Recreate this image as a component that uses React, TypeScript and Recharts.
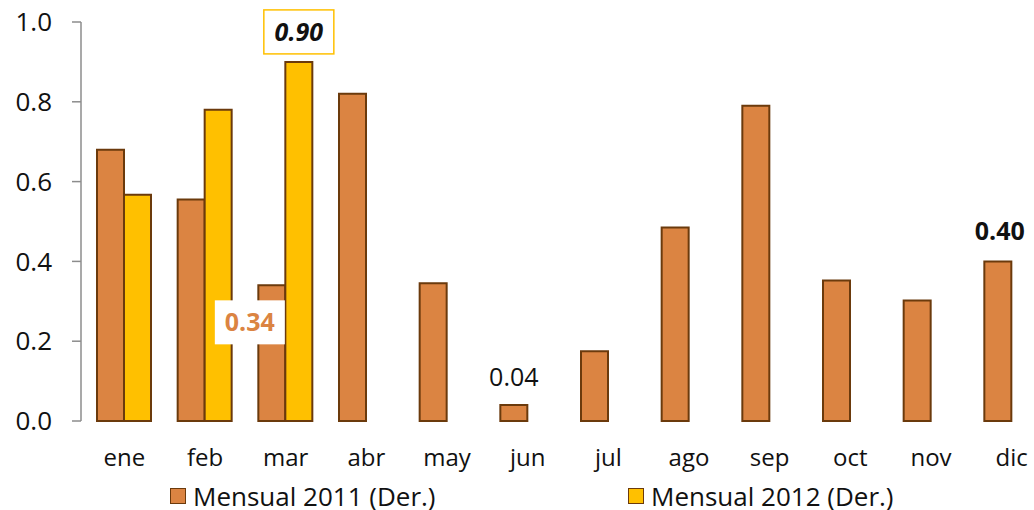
import { BarChart, Bar, XAxis, YAxis, Legend, LabelList } from 'recharts';

const meses = ['ene', 'feb', 'mar', 'abr', 'may', 'jun', 'jul', 'ago', 'sep', 'oct', 'nov', 'dic'];
const mensual2011 = [0.68, 0.555, 0.34, 0.82, 0.345, 0.04, 0.175, 0.485, 0.79, 0.352, 0.302, 0.4];
const mensual2012: (number | null)[] = [0.567, 0.78, 0.9, null, null, null, null, null, null, null, null, null];
const yTicks = [0, 0.2, 0.4, 0.6, 0.8, 1.0];

const data = meses.map((name, i) => ({
  name,
  m2011: mensual2011[i],
  m2012: mensual2012[i],
}));

const NARANJA = '#DB8442';
const AMARILLO = '#FFC000';
const BORDE = '#6B3A0C';
const FONT = '"Open Sans", sans-serif';

const label2011 = (props: any) => {
  const { x, y, width, index, value } = props;
  const cx = x + width / 2;
  if (index === 2) {
    const bx = cx - 22;
    const by = y + 37;
    return (
      <g>
        <rect x={bx - 35} y={by - 22} width={70} height={44} fill="#fff" />
        <text x={bx} y={by + 9} textAnchor="middle" fontFamily={FONT} fontSize={25} fontWeight={700} fill={NARANJA}>
          {Number(value).toFixed(2)}
        </text>
      </g>
    );
  }
  if (index === 5) {
    return (
      <text x={cx} y={y - 19} textAnchor="middle" fontFamily={FONT} fontSize={25} fill="#111">
        {Number(value).toFixed(2)}
      </text>
    );
  }
  if (index === 11) {
    return (
      <text x={cx + 2} y={y - 21} textAnchor="middle" fontFamily={FONT} fontSize={25} fontWeight={700} fill="#111">
        {Number(value).toFixed(2)}
      </text>
    );
  }
  return null;
};

const label2012 = (props: any) => {
  const { x, y, width, index, value } = props;
  if (index !== 2) return null;
  const cx = x + width / 2;
  return (
    <g>
      <rect x={cx - 35} y={y - 52} width={70} height={44} fill="#fff" stroke={AMARILLO} strokeWidth={1.5} />
      <text x={cx} y={y - 21} textAnchor="middle" fontFamily={FONT} fontSize={25} fontWeight={700} fontStyle="italic" fill="#111">
        {Number(value).toFixed(2)}
      </text>
    </g>
  );
};

const LeyendaItem = ({ left, color, text }: { left: number; color: string; text: string }) => (
  <div style={{ position: 'absolute', left, top: 10, display: 'flex', alignItems: 'center' }}>
    <span style={{ width: 14, height: 14, background: color, border: `1.5px solid ${BORDE}`, marginRight: 7 }} />
    <span style={{ fontFamily: FONT, fontSize: 26, color: '#111', whiteSpace: 'nowrap', lineHeight: '30px' }}>{text}</span>
  </div>
);

const leyenda = () => (
  <div style={{ position: 'relative', height: 39, width: 1060 }}>
    <LeyendaItem left={170} color={NARANJA} text="Mensual 2011 (Der.)" />
    <LeyendaItem left={628} color={AMARILLO} text="Mensual 2012 (Der.)" />
  </div>
);

export default function App() {
  return (
    <div style={{ position: 'absolute', left: 0, top: 0, width: 1034, height: 510, overflow: 'hidden', background: '#fff' }}>
      <BarChart
        width={1060}
        height={510}
        data={data}
        barGap={0}
        barSize={27}
        margin={{ top: 22, right: 8, left: 0, bottom: 0 }}
      >
        <XAxis
          dataKey="name"
          axisLine={false}
          tickLine={false}
          tickMargin={22}
          height={50}
          interval={0}
          padding={{ left: 3, right: 0 }}
          tick={{ fill: '#111', fontSize: 24, fontFamily: FONT }}
        />
        <YAxis
          width={81}
          domain={[0, 1]}
          ticks={yTicks}
          tickFormatter={(v: number) => v.toFixed(1)}
          axisLine={{ stroke: '#8c8c8c', strokeWidth: 1.5 }}
          tickLine={{ stroke: '#8c8c8c', strokeWidth: 1.5 }}
          tickSize={9}
          tickMargin={20}
          tick={{ fill: '#111', fontSize: 26, fontFamily: FONT }}
        />
        <Legend content={leyenda} wrapperStyle={{ left: 0, bottom: 0, width: 1060, height: 39 }} />
        <Bar dataKey="m2011" name="Mensual 2011 (Der.)" fill={NARANJA} stroke={BORDE} strokeWidth={2} isAnimationActive={false}>
          <LabelList dataKey="m2011" content={label2011} />
        </Bar>
        <Bar dataKey="m2012" name="Mensual 2012 (Der.)" fill={AMARILLO} stroke={BORDE} strokeWidth={2} isAnimationActive={false}>
          <LabelList dataKey="m2012" content={label2012} />
        </Bar>
      </BarChart>
    </div>
  );
}
